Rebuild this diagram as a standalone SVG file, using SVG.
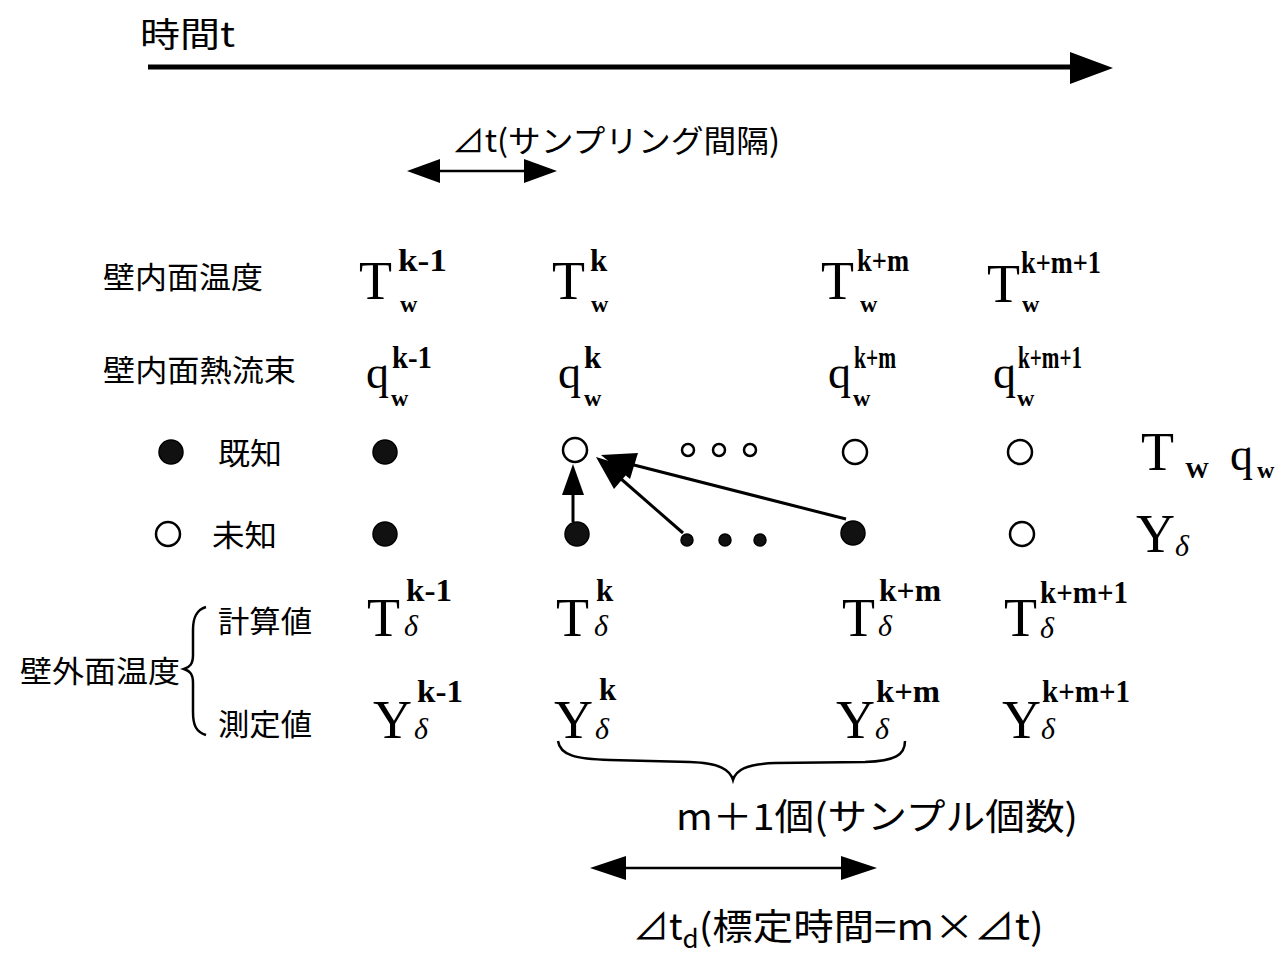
<svg xmlns="http://www.w3.org/2000/svg" width="1288" height="957" viewBox="0 0 1288 957">
<style>
.jp{font-family:"Noto Sans CJK JP","Noto Sans",sans-serif;font-size:30px;fill:#000}
.m{font-family:"Liberation Serif",serif;font-size:54px;fill:#000}
.q{font-family:"Liberation Serif",serif;font-size:46px;fill:#000}
.sup{font-family:"Liberation Serif",serif;font-size:31px;font-weight:bold;fill:#000}
.sub{font-family:"Liberation Serif",serif;font-size:24px;font-weight:bold;fill:#000}
.dl{font-family:"Liberation Serif",serif;font-size:30px;font-style:italic;fill:#000}
.fill{fill:#111;stroke:#000;stroke-width:1.5}
.open{fill:#fff;stroke:#000;stroke-width:2.5}
.ln{stroke:#000;fill:none}
</style>
<rect width="1288" height="957" fill="#fff"/>

<g id="time-axis">
<text class="jp" x="140" y="47" textLength="95" lengthAdjust="spacingAndGlyphs" style="font-size:34px">時間t</text>
<line class="ln" x1="148" y1="67" x2="1075" y2="67" stroke-width="5"/>
<path d="M1070,52 L1113,68 L1070,84 Z" fill="#000"/>
</g>

<g id="sampling-interval">
<text class="jp" x="452" y="152" textLength="328" lengthAdjust="spacingAndGlyphs" style="font-size:31px">⊿t(サンプリング間隔)</text>
<line class="ln" x1="430" y1="171" x2="535" y2="171" stroke-width="2.5"/>
<path d="M407,171 L440,159 L440,183 Z" fill="#000"/>
<path d="M557,171 L524,159 L524,183 Z" fill="#000"/>
</g>

<g id="row-labels">
<text class="jp" x="103" y="288" textLength="160" lengthAdjust="spacingAndGlyphs">壁内面温度</text>
<text class="jp" x="103" y="381" textLength="193" lengthAdjust="spacingAndGlyphs">壁内面熱流束</text>
<text class="jp" x="218" y="464" textLength="64" lengthAdjust="spacingAndGlyphs">既知</text>
<text class="jp" x="212" y="546" textLength="65" lengthAdjust="spacingAndGlyphs">未知</text>
<text class="jp" x="218" y="632" textLength="94" lengthAdjust="spacingAndGlyphs">計算値</text>
<text class="jp" x="20" y="682" textLength="160" lengthAdjust="spacingAndGlyphs">壁外面温度</text>
<text class="jp" x="218" y="735" textLength="94" lengthAdjust="spacingAndGlyphs">測定値</text>
<path class="ln" stroke-width="2.5" d="M206,607 C196,610 193,618 193,630 L193,655 C193,664 190,667 184,669 C190,671 193,674 193,683 L193,712 C193,725 196,732 206,735"/>
</g>

<g id="Tw-row">
<text class="m" x="359" y="299">T</text><text class="sup" x="398" y="271" textLength="49" lengthAdjust="spacingAndGlyphs">k-1</text><text class="sub" x="400" y="312">w</text>
<text class="m" x="552" y="299">T</text><text class="sup" x="590" y="271">k</text><text class="sub" x="591" y="312">w</text>
<text class="m" x="821" y="299">T</text><text class="sup" x="857" y="271" textLength="52" lengthAdjust="spacingAndGlyphs">k+m</text><text class="sub" x="860" y="312">w</text>
<text class="m" x="987" y="302">T</text><text class="sup" x="1021" y="273" textLength="80" lengthAdjust="spacingAndGlyphs">k+m+1</text><text class="sub" x="1022" y="312">w</text>
</g>

<g id="qw-row">
<text class="q" x="366" y="388">q</text><text class="sup" x="392" y="368" textLength="40" lengthAdjust="spacingAndGlyphs">k-1</text><text class="sub" x="391" y="406">w</text>
<text class="q" x="558" y="388">q</text><text class="sup" x="584" y="368">k</text><text class="sub" x="584" y="406">w</text>
<text class="q" x="828" y="388">q</text><text class="sup" x="854" y="368" textLength="42" lengthAdjust="spacingAndGlyphs">k+m</text><text class="sub" x="853" y="406">w</text>
<text class="q" x="993" y="388">q</text><text class="sup" x="1018" y="368" textLength="64" lengthAdjust="spacingAndGlyphs">k+m+1</text><text class="sub" x="1017" y="406">w</text>
</g>

<g id="known-row">
<circle class="fill" cx="171" cy="452" r="12"/>
<circle class="fill" cx="385" cy="452" r="12"/>
<circle class="open" cx="575" cy="450" r="12"/>
<circle class="open" cx="688" cy="450" r="6"/>
<circle class="open" cx="719" cy="450" r="6"/>
<circle class="open" cx="750" cy="450" r="6"/>
<circle class="open" cx="855" cy="452" r="12"/>
<circle class="open" cx="1020" cy="452" r="12"/>
<text class="m" x="1141" y="470">T</text><text class="sub" x="1185" y="478">W</text>
<text class="q" x="1230" y="470">q</text><text class="sub" x="1257" y="478">w</text>
</g>

<g id="unknown-row">
<circle class="open" cx="168" cy="534" r="12"/>
<circle class="fill" cx="385" cy="534" r="12"/>
<circle class="fill" cx="577" cy="534" r="12"/>
<circle class="fill" cx="687" cy="540" r="6"/>
<circle class="fill" cx="725" cy="540" r="6"/>
<circle class="fill" cx="760" cy="540" r="6"/>
<circle class="fill" cx="853" cy="533" r="12"/>
<circle class="open" cx="1022" cy="534" r="12"/>
<text class="m" x="1136" y="552">Y</text><text class="dl" x="1175" y="556">δ</text>
</g>

<g id="connectors">
<line class="ln" x1="573" y1="522" x2="573" y2="492" stroke-width="3"/>
<path d="M573,464 L584,495 L562,495 Z" fill="#000"/>
<line class="ln" x1="683" y1="533" x2="620" y2="478" stroke-width="3"/>
<path d="M596,457 L632,468 L614,489 Z" fill="#000"/>
<line class="ln" x1="846" y1="519" x2="630" y2="464" stroke-width="3"/>
<path d="M601,455 L638,453 L630,479 Z" fill="#000"/>
</g>

<g id="Td-row">
<text class="m" x="367" y="636">T</text><text class="sup" x="406" y="601" textLength="46" lengthAdjust="spacingAndGlyphs">k-1</text><text class="dl" x="404" y="636">δ</text>
<text class="m" x="556" y="636">T</text><text class="sup" x="596" y="601">k</text><text class="dl" x="594" y="636">δ</text>
<text class="m" x="842" y="636">T</text><text class="sup" x="879" y="601" textLength="62" lengthAdjust="spacingAndGlyphs">k+m</text><text class="dl" x="878" y="636">δ</text>
<text class="m" x="1004" y="636">T</text><text class="sup" x="1040" y="603" textLength="88" lengthAdjust="spacingAndGlyphs">k+m+1</text><text class="dl" x="1040" y="638">δ</text>
</g>

<g id="Yd-row">
<text class="m" x="373" y="738">Y</text><text class="sup" x="417" y="702" textLength="46" lengthAdjust="spacingAndGlyphs">k-1</text><text class="dl" x="414" y="739">δ</text>
<text class="m" x="554" y="738">Y</text><text class="sup" x="599" y="700">k</text><text class="dl" x="595" y="739">δ</text>
<text class="m" x="836" y="738">Y</text><text class="sup" x="876" y="702" textLength="64" lengthAdjust="spacingAndGlyphs">k+m</text><text class="dl" x="875" y="739">δ</text>
<text class="m" x="1002" y="738">Y</text><text class="sup" x="1042" y="702" textLength="88" lengthAdjust="spacingAndGlyphs">k+m+1</text><text class="dl" x="1041" y="739">δ</text>
</g>

<g id="sample-count">
<path class="ln" stroke-width="2.5" d="M558,741 C560,755 575,759 610,760 L690,762 C720,763 730,770 733,780 C736,770 746,764 775,763 L865,762 C895,761 905,755 905,741"/>
<text class="jp" x="676" y="830" textLength="402" lengthAdjust="spacingAndGlyphs" style="font-size:36px">m＋1個(サンプル個数)</text>
</g>

<g id="calibration-time">
<line class="ln" x1="615" y1="868" x2="855" y2="868" stroke-width="2.5"/>
<path d="M590,868 L626,856 L626,880 Z" fill="#000"/>
<path d="M877,868 L841,856 L841,880 Z" fill="#000"/>
<text class="jp" x="633" y="940" style="font-size:36px">⊿t<tspan dy="8" style="font-size:26px">d</tspan><tspan dy="-8" textLength="345" lengthAdjust="spacingAndGlyphs">(標定時間=m×⊿t)</tspan></text>
</g>
</svg>
